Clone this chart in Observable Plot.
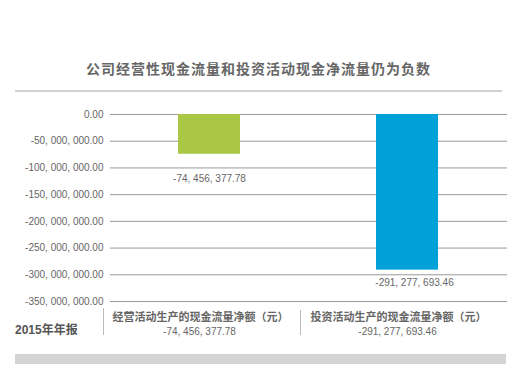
<!DOCTYPE html>
<html>
<head>
<meta charset="utf-8">
<script src="https://cdn.jsdelivr.net/npm/d3@7"></script>
<script src="https://cdn.jsdelivr.net/npm/@observablehq/plot@0.6"></script>
<style>
  html, body { margin: 0; padding: 0; background: #fff; }
  #wrap { position: relative; width: 527px; height: 379px; overflow: hidden;
    font-family: "Liberation Sans", "Noto Sans CJK SC", sans-serif; }
  #wrap svg { position: absolute; left: 0; top: 0; }
  .title { position: absolute; left: 0; width: 517px; top: 58px; text-align: center;
    font-size: 14px; font-weight: bold; color: #666; letter-spacing: 1px;
    font-family: "Noto Sans CJK SC", sans-serif; line-height: 20px; }
  .rule { position: absolute; left: 15px; top: 90px; width: 487px; height: 1.5px; background: #d2d2d2; }
  .year { position: absolute; left: 15px; top: 321px; font-size: 12px; font-weight: bold; color: #555;
    line-height: 18px; font-family: "Liberation Sans", "Noto Sans CJK SC", sans-serif; }
  .sep { position: absolute; width: 1px; background: #bbb; }
  .band { position: absolute; left: 15px; top: 354px; width: 491px; height: 10px; background: #d4d4d4; }
</style>
</head>
<body>
<div id="wrap">
  <div class="title">公司经营性现金流量和投资活动现金净流量仍为负数</div>
  <div class="rule"></div>
  <div class="year">2015年年报</div>
  <div class="sep" style="left:103px; top:308px; height:27px;"></div>
  <div class="sep" style="left:300px; top:310px; height:25px;"></div>
  <div class="band"></div>
</div>
<script>
const categories = ["经营活动生产的现金流量净额（元）", "投资活动生产的现金流量净额（元）"];
const values = [-74456377.78, -291277693.46];
const colors = ["#a9c744", "#00a0d8"];
const yTicks = [0, -50000000, -100000000, -150000000, -200000000, -250000000, -300000000, -350000000];

const locale = d3.formatLocale({decimal: ".", thousands: ", ", grouping: [3], currency: ["", ""], minus: "-"});
const fmt = locale.format(",.2f");

const data = categories.map((c, i) => ({cat: c, value: values[i], color: colors[i], idx: i}));

const chart = Plot.plot({
  width: 527,
  height: 379,
  marginTop: 114,
  marginBottom: 78,
  marginLeft: 110,
  marginRight: 20,
  style: {fontFamily: "'Liberation Sans', 'Noto Sans CJK SC', sans-serif", background: "transparent"},
  x: {domain: categories, paddingInner: 0.686, paddingOuter: 0.342, label: null},
  y: {domain: [-350000000, 0], label: null},
  marks: [
    Plot.gridY(yTicks, {stroke: "#9a9a9a", strokeOpacity: 1, strokeWidth: 1}),
    Plot.axisY(yTicks, {tickSize: 0, tickPadding: 7, tickFormat: fmt, fontSize: 10, fill: "#666", label: null}),
    Plot.barY(data, {x: "cat", y: "value", fill: "color"}),
    Plot.text(data.filter(d => d.idx === 0), {x: "cat", y: "value", text: d => fmt(d.value), dy: 25, fontSize: 10, fill: "#666"}),
    Plot.text(data.filter(d => d.idx === 1), {x: "cat", y: "value", text: d => fmt(d.value), dy: 13, dx: 7, fontSize: 10, fill: "#666"}),
    Plot.axisX({tickSize: 0, tickPadding: 12, dx: -9, fontSize: 11, fontWeight: "bold", fill: "#666", label: null,
      style: {fontFamily: "'Noto Sans CJK SC', sans-serif"}}),
    Plot.axisX({tickSize: 0, tickPadding: 26, dx: -10, fontSize: 10, fill: "#666", label: null,
      tickFormat: c => fmt(values[categories.indexOf(c)])})
  ]
});
document.getElementById("wrap").prepend(chart);
</script>
</body>
</html>
